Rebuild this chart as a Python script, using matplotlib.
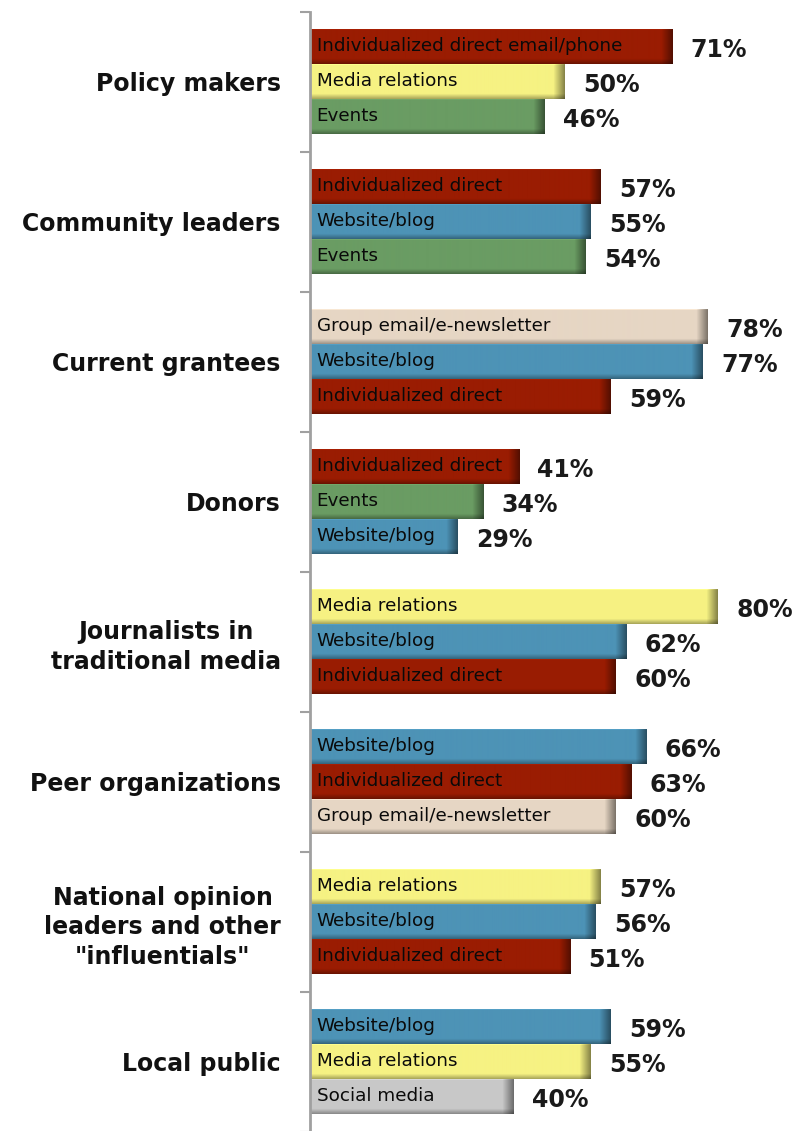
import numpy as np
import matplotlib
matplotlib.use("Agg")
import matplotlib.pyplot as plt
from matplotlib.colors import to_rgb

# ---------------- data ----------------
groups = [
    "Policy makers",
    "Community leaders",
    "Current grantees",
    "Donors",
    "Journalists in\ntraditional media",
    "Peer organizations",
    "National opinion\nleaders and other\n\"influentials\"",
    "Local public",
]
bar_labels = [
    ["Individualized direct email/phone", "Media relations", "Events"],
    ["Individualized direct", "Website/blog", "Events"],
    ["Group email/e-newsletter", "Website/blog", "Individualized direct"],
    ["Individualized direct", "Events", "Website/blog"],
    ["Media relations", "Website/blog", "Individualized direct"],
    ["Website/blog", "Individualized direct", "Group email/e-newsletter"],
    ["Media relations", "Website/blog", "Individualized direct"],
    ["Website/blog", "Media relations", "Social media"],
]
values = [
    [71, 50, 46],
    [57, 55, 54],
    [78, 77, 59],
    [41, 34, 29],
    [80, 62, 60],
    [66, 63, 60],
    [57, 56, 51],
    [59, 55, 40],
]

channel_colors = {
    "Individualized direct email/phone": "#9A1C02",
    "Individualized direct": "#9A1C02",
    "Media relations": "#F6F283",
    "Events": "#6A9C63",
    "Website/blog": "#4D93B6",
    "Group email/e-newsletter": "#E6D6C4",
    "Social media": "#C8C8C8",
}

W, H = 797, 1131
fig = plt.figure(figsize=(W / 100, H / 100), dpi=100)
ax_left, ax_top, ax_bot = 310, 12, 1132
ax = fig.add_axes([ax_left / W, 1 - ax_bot / H, (W - ax_left) / W, (ax_bot - ax_top) / H])

px_per_unit = 5.1
xmax = (W - ax_left) / px_per_unit
bar_h = 0.25


def shaded_bar(x1, yc, h, color):
    base = np.array(to_rgb(color))
    nx = max(int(x1 * px_per_unit), 2)
    ny = 35
    fx = np.ones(nx)
    fade = min(12, nx)
    fx[-fade:] = np.linspace(1.0, 0.55, fade)
    fy = np.ones(ny)
    fy[0] = 1.08
    fy[-5:] = np.linspace(0.95, 0.7, 5)
    f = fy[:, None] * fx[None, :]
    img = np.clip(base[None, None, :] * f[:, :, None], 0, 1)
    ax.imshow(img, extent=(0, x1, yc + h / 2, yc - h / 2), aspect="auto",
              interpolation="bilinear", zorder=2)


for gi, (labs, vals) in enumerate(zip(bar_labels, values)):
    center = gi + 0.5
    for bi, (lab, v) in enumerate(zip(labs, vals)):
        yc = center + (bi - 1) * bar_h
        shaded_bar(v, yc, bar_h, channel_colors[lab])
        ax.text(1.3, yc - 0.005, lab, ha="left", va="center", fontsize=13.2,
                color="#0A0A0A", zorder=3)
        ax.text(v + 3.6, yc + 0.02, f"{v}%", ha="left", va="center",
                fontsize=17, fontweight="bold", color="#1A1A1A", zorder=3)

ax.set_xlim(0, xmax)
ax.set_ylim(len(groups), 0)

for s in ["top", "right", "bottom"]:
    ax.spines[s].set_visible(False)
ax.spines["left"].set_color("#A0A0A0")
ax.spines["left"].set_linewidth(2)
ax.set_xticks([])

ax.set_yticks(np.arange(len(groups) + 1))
ax.set_yticklabels([])
ax.tick_params(axis="y", which="major", direction="out", length=7, width=1.5,
               color="#A0A0A0")
ax.set_yticks(np.arange(len(groups)) + 0.5, minor=True)
ax.set_yticklabels(groups, minor=True, fontsize=17, fontweight="bold",
                   color="#111111")
ax.tick_params(axis="y", which="minor", length=0, pad=21)
for t in ax.get_yticklabels(minor=True):
    t.set_multialignment("center")
    t.set_linespacing(1.3)

fig.savefig("out.png", dpi=100)
